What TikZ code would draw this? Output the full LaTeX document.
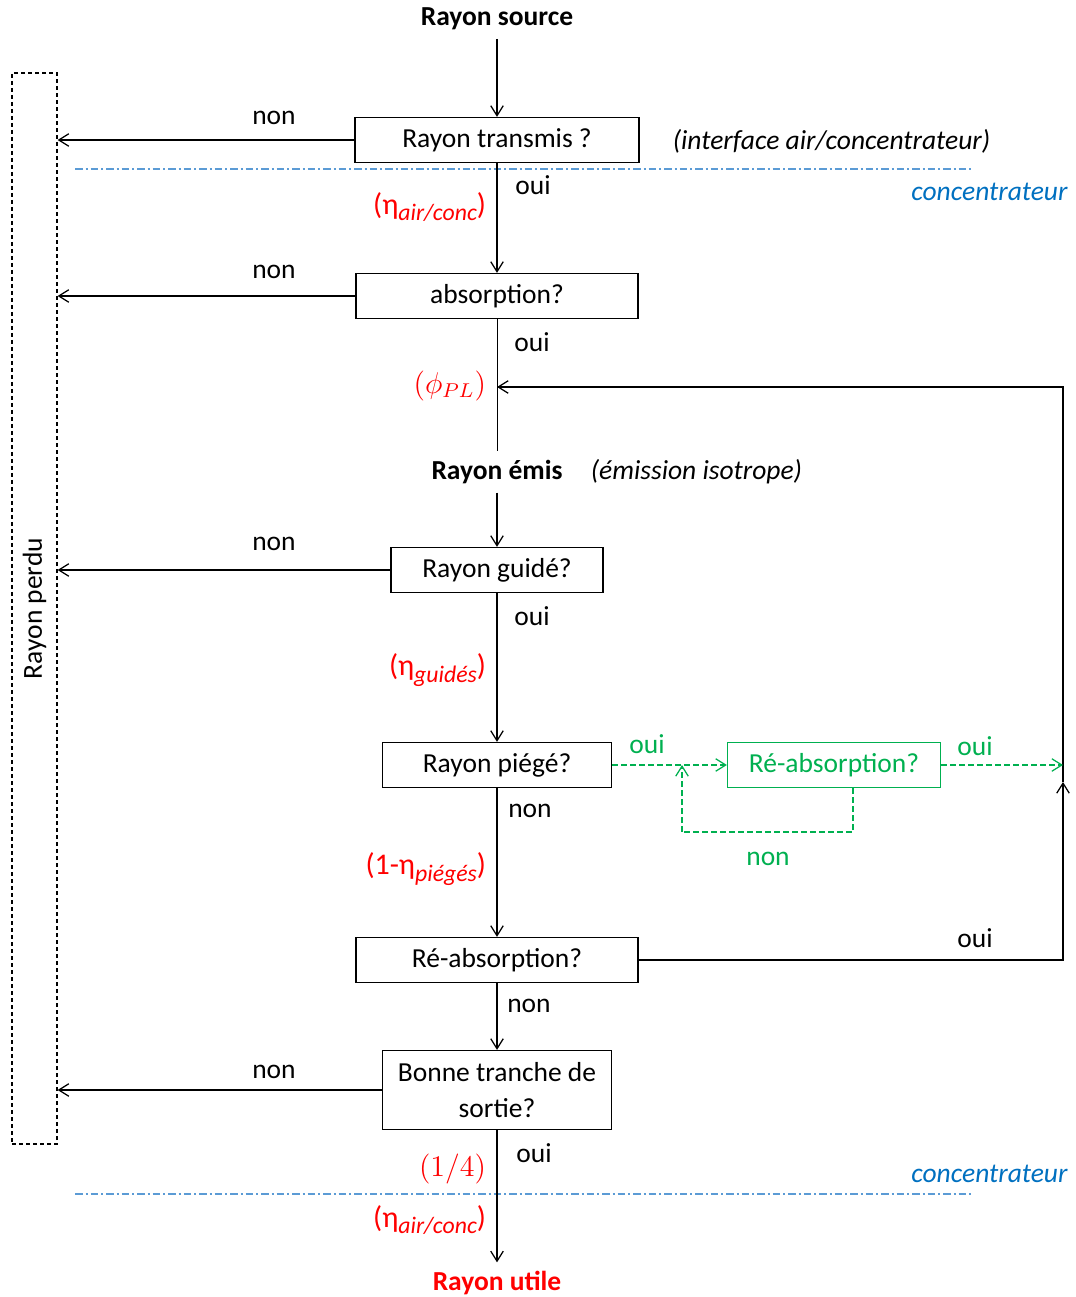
\documentclass[tikz,border=0pt]{standalone}
\usepackage{fontspec}
\setmainfont{Carlito}
\usepackage{tikz}
\usetikzlibrary{arrows.meta,positioning}
\definecolor{vertc}{HTML}{00B050}
\definecolor{bleuc}{HTML}{0070C0}
\definecolor{lignec}{HTML}{5B9BD5}
\definecolor{rougec}{HTML}{FF0000}
\newcommand{\indice}[1]{\raisebox{-0.45ex}{\fontsize{9.5}{10}\selectfont\itshape #1}}
\tikzset{
  ar/.style={-{Straight Barb[length=4pt,width=5pt]},line width=0.5pt},
  box/.style={draw,line width=0.5pt,minimum height=18pt,inner sep=2pt,align=center},
  vbox/.style={box,draw=vertc,text=vertc},
  var/.style={ar,vertc,dash pattern=on 2.4pt off 1.2pt},
  vtrait/.style={line width=0.5pt,vertc,dash pattern=on 2.4pt off 1.2pt},
  interf/.style={lignec,line width=0.5pt,dash pattern=on 3pt off 1.2pt on 0.8pt off 1.2pt},
  eff/.style={rougec,anchor=east,inner sep=1pt,font=\fontsize{12}{14}\selectfont},
  milieu/.style={bleuc,anchor=east,inner sep=0pt,font=\fontsize{11}{13}\selectfont\itshape}
}

\begin{document}
\begin{tikzpicture}[x=0.4pt,y=-0.4pt,font=\fontsize{11}{13}\selectfont]
\useasboundingbox (0,0) rectangle (1075,1297);
% rayon perdu
\node[draw,line width=0.5pt,dash pattern=on 1.6pt off 1.2pt,minimum width=18pt,minimum height=428.4pt,inner sep=0pt] (perdu) at (34.5,608.5) {};
\node[rotate=90] (perdutxt) at (perdu.center) {Rayon perdu};
% interfaces
\draw[interf] (75,169) -- (972,169);
\draw[interf] (75,1194) -- (972,1194);
\node[milieu] (conc1) at (1068,192) {concentrateur};
\node[milieu] (conc2) at (1068,1174) {concentrateur};
% noeuds
\node (src) at (497,19) {\bfseries Rayon source};
\node[box,minimum width=113.6pt] (trans) at (497,140) {Rayon transmis ?};
\node[anchor=west,font=\fontsize{11}{13}\selectfont\itshape] (interface) at (664,141) {(interface air/concentrateur)};
\node[box,minimum width=112.8pt] (absorp) at (497,296) {absorption?};
\node (emis) at (497,472) {\bfseries Rayon émis};
\node[anchor=west,font=\fontsize{11}{13}\selectfont\itshape] (iso) at (582,472) {(émission isotrope)};
\node[box,minimum width=84.8pt] (guide) at (497,570) {Rayon guidé?};
\node[box,minimum width=91.6pt] (piege) at (497,765) {Rayon piégé?};
\node[vbox,minimum width=85.2pt] (vreab) at (834,765) {Ré-absorption?};
\node[box,minimum width=112.8pt] (reab) at (497,960) {Ré-absorption?};
\node[box,minimum width=91.6pt,minimum height=31.6pt] (sortie) at (497,1090) {Bonne tranche de\\[1.5pt]sortie?};
\node[rougec] (util) at (497,1283) {\bfseries Rayon utile};
% coins
\coordinate (coin) at (1063,957);
\coordinate (mid) at (1063,782);
\coordinate (haut) at (1063,387);
\coordinate (retour) at (497,387);
\coordinate (ga) at (853,832);
\coordinate (gb) at (682,832);
\coordinate (gc) at (682,765);
% fleches
\draw[ar] (src) -- (trans);
\draw[ar] (trans) -- (absorp);
\draw (absorp) -- (emis);
\draw[ar] (emis) -- (guide);
\draw[ar] (guide) -- (piege);
\draw[ar] (piege) -- (reab);
\draw[ar] (reab) -- (sortie);
\draw[ar] (sortie) -- (util);
\draw[ar] (trans.west) -- (trans.west -| perdu.east);
\draw[ar] (absorp.west) -- (absorp.west -| perdu.east);
\draw[ar] (guide.west) -- (guide.west -| perdu.east);
\draw[ar] (sortie.west) -- (sortie.west -| perdu.east);
\draw[ar] (reab.east) -- (reab.east -| coin) -- (mid);
\draw[ar] (mid) -- (haut) -- (retour);
\draw[var] (piege) -- (vreab);
\draw[var] (vreab) -- (vreab -| mid);
\draw[vtrait] (vreab.south -| ga) -- (ga) -- (gb);
\draw[var] (gb) -- (gc);
% etiquettes
\node (n1) at (274,118) {non};
\node (n2) at (274,272) {non};
\node (n3) at (274,544) {non};
\node (n4) at (274,1072) {non};
\node (o1) at (533,185) {oui};
\node (o2) at (532,342) {oui};
\node (o3) at (532,616) {oui};
\node (n5) at (530,811) {non};
\node (n6) at (529,1006) {non};
\node (o4) at (534,1153) {oui};
\node (o5) at (975,938) {oui};
\node[vertc] (vo1) at (647,744) {oui};
\node[vertc] (vo2) at (975,746) {oui};
\node[vertc] (vn1) at (768,859) {non};
\node[eff] (e1) at (489,207) {(η\indice{air/conc})};
\node[eff] (e2) at (489,386) {$(\phi_{PL})$};
\node[eff] (e3) at (489,670) {(η\indice{guidés})};
\node[eff] (e4) at (489,869) {(1-η\indice{piégés})};
\node[eff] (e5) at (489,1169) {$(1/4)$};
\node[eff] (e6) at (489,1220) {(η\indice{air/conc})};
\end{tikzpicture}
\end{document}
